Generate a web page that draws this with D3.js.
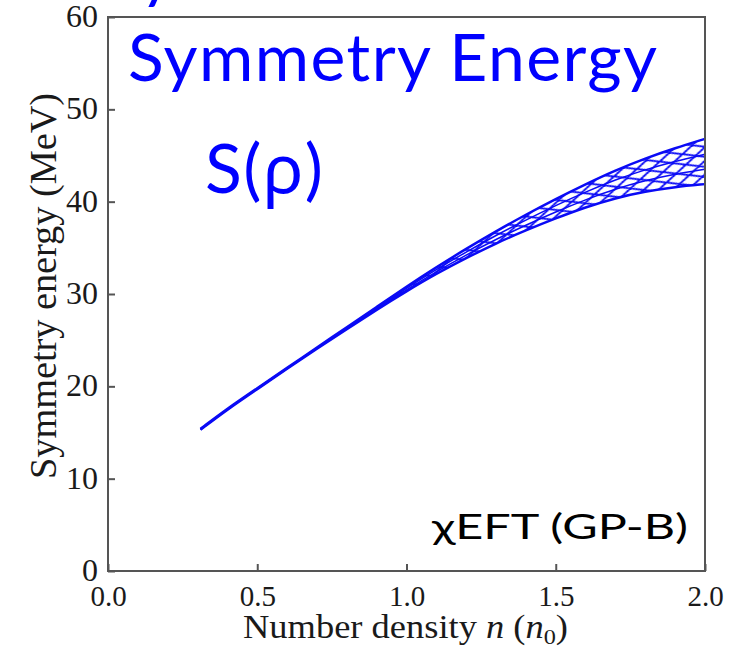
<!DOCTYPE html>
<html>
<head>
<meta charset="utf-8">
<script src="https://cdn.jsdelivr.net/npm/d3@7"></script>
<style>
  html, body { margin: 0; padding: 0; background: #fff; overflow: hidden; }
  svg { display: block; }
</style>
</head>
<body>
<svg id="drawing_region"></svg>
<script>
// values
const density  = [0.31, 0.4, 0.5, 0.6, 0.7, 0.8, 0.9, 1.0, 1.1, 1.2, 1.3, 1.4, 1.5, 1.6, 1.7, 1.8, 1.9, 2.0];
const symLower = [15.3, 17.5, 19.7, 21.9, 24.1, 26.2, 28.3, 30.3, 32.2, 33.9, 35.5, 36.9, 38.2, 39.4, 40.4, 41.1, 41.6, 41.9];
const symUpper = [15.4, 17.6, 19.8, 22.0, 24.2, 26.4, 28.6, 30.8, 32.9, 34.9, 36.8, 38.6, 40.3, 41.9, 43.4, 44.7, 45.8, 46.8];
const xTicks = [0.0, 0.5, 1.0, 1.5, 2.0];
const yTicks = [0, 10, 20, 30, 40, 50, 60];

const config = {
    width: 730,
    height: 649,
    margin: {top: 17, right: 25, bottom: 78, left: 108}
};

const band = density.map((n, i) => ({n: n, lo: symLower[i], hi: symUpper[i]}));

const svg = d3.select('#drawing_region')
    .attr('width', config.width)
    .attr('height', config.height);

const inner_width = config.width - config.margin.left - config.margin.right;
const inner_height = config.height - config.margin.top - config.margin.bottom;

const chart = svg.append('g')
    .attr('transform', `translate(${config.margin.left}, ${config.margin.top})`);

const xscale = d3.scaleLinear().domain([0, 2]).range([0, inner_width]);
const yscale = d3.scaleLinear().domain([0, 60]).range([inner_height, 0]);

// cross hatch pattern for the band
const defs = svg.append('defs');
const pat = defs.append('pattern')
    .attr('id', 'mesh')
    .attr('patternUnits', 'userSpaceOnUse')
    .attr('width', 24)
    .attr('height', 11)
    .attr('patternTransform', 'rotate(-18)');
pat.append('path')
    .attr('d', 'M0,0 L24,11 M0,11 L24,0 M-12,5.5 L0,11 M-12,5.5 L0,0 M24,0 L36,5.5 M24,11 L36,5.5')
    .attr('stroke', '#0a0af5')
    .attr('stroke-width', 1.9)
    .attr('fill', 'none');

const area = d3.area()
    .x(d => xscale(d.n))
    .y0(d => yscale(d.lo))
    .y1(d => yscale(d.hi))
    .curve(d3.curveBasis);

chart.append('path')
    .datum(band)
    .attr('d', area)
    .attr('fill', 'url(#mesh)');

// a few curves running inside the band
[0, 0.33, 0.66, 1].forEach(t => {
    const line = d3.line()
        .x(d => xscale(d.n))
        .y(d => yscale(d.lo + (d.hi - d.lo) * t))
        .curve(d3.curveBasis);
    chart.append('path')
        .datum(band)
        .attr('d', line)
        .attr('fill', 'none')
        .attr('stroke', '#0a0af5')
        .attr('stroke-width', (t === 0 || t === 1) ? 2.5 : 1.5);
});

// frame
chart.append('rect')
    .attr('width', inner_width)
    .attr('height', inner_height)
    .attr('fill', 'none')
    .attr('stroke', '#555')
    .attr('stroke-width', 2);

// axes with inward ticks
const xaxis = d3.axisBottom(xscale)
    .tickValues(xTicks)
    .tickSize(-7)
    .tickPadding(14)
    .tickFormat(d3.format('.1f'));

const yaxis = d3.axisLeft(yscale)
    .tickValues(yTicks)
    .tickSize(-7)
    .tickPadding(10)
    .tickFormat(d3.format('d'));

const xaxis_group = chart.append('g')
    .attr('transform', `translate(0, ${inner_height})`)
    .call(xaxis);
const yaxis_group = chart.append('g').call(yaxis);

[xaxis_group, yaxis_group].forEach(g => {
    g.select('.domain').remove();
    g.selectAll('.tick line').attr('stroke', '#555').attr('stroke-width', 2);
    g.selectAll('.tick text')
        .attr('fill', '#1a1a1a')
        .attr('font-family', '"Liberation Serif", "DejaVu Serif", serif');
});
xaxis_group.selectAll('.tick text').attr('font-size', 29);
yaxis_group.selectAll('.tick text').attr('font-size', 32).attr('dy', '0.3em');

// axis titles
const xlab = svg.append('text')
    .attr('x', 243)
    .attr('y', 638)
    .attr('font-family', '"Liberation Serif", serif')
    .attr('font-size', 33)
    .attr('fill', '#1a1a1a')
    .attr('textLength', 325)
    .attr('lengthAdjust', 'spacingAndGlyphs');
xlab.append('tspan').text('Number density ');
xlab.append('tspan').attr('font-style', 'italic').text('n');
xlab.append('tspan').text(' (');
xlab.append('tspan').attr('font-style', 'italic').text('n');
xlab.append('tspan').attr('font-size', 22).attr('dy', 6).text('0');
xlab.append('tspan').attr('dy', -6).text(')');

svg.append('text')
    .attr('transform', 'translate(56, 286) rotate(-90)')
    .attr('text-anchor', 'middle')
    .attr('font-family', '"Liberation Serif", serif')
    .attr('font-size', 38)
    .attr('fill', '#1a1a1a')
    .attr('textLength', 386)
    .attr('lengthAdjust', 'spacingAndGlyphs')
    .text('Symmetry energy (MeV)');

// slide annotations
const sans = 'Lato, "Open Sans", "Noto Sans", sans-serif';
svg.append('text')
    .attr('x', 140)
    .attr('y', -4)
    .attr('font-family', sans)
    .attr('font-size', 66)
    .attr('fill', '#0000ff')
    .text('y');

svg.append('text')
    .attr('x', 128)
    .attr('y', 81)
    .attr('font-family', sans)
    .attr('font-size', 66)
    .attr('fill', '#0000ff')
    .attr('textLength', 529)
    .attr('lengthAdjust', 'spacing')
    .text('Symmetry Energy');

const srho = svg.append('text')
    .attr('x', 205)
    .attr('y', 193)
    .attr('font-family', sans)
    .attr('font-size', 68)
    .attr('fill', '#0000ff')
    .attr('textLength', 118)
    .attr('lengthAdjust', 'spacing');
srho.append('tspan').text('S(');
srho.append('tspan').attr('font-family', '"Noto Sans", "DejaVu Sans", sans-serif').text('ρ');
srho.append('tspan').text(')');

svg.append('text')
    .attr('x', 432)
    .attr('y', 539)
    .attr('font-family', sans)
    .attr('font-size', 34)
    .attr('fill', '#000')
    .attr('textLength', 256)
    .attr('lengthAdjust', 'spacingAndGlyphs')
    .text('χEFT (GP-B)');
</script>
</body>
</html>
